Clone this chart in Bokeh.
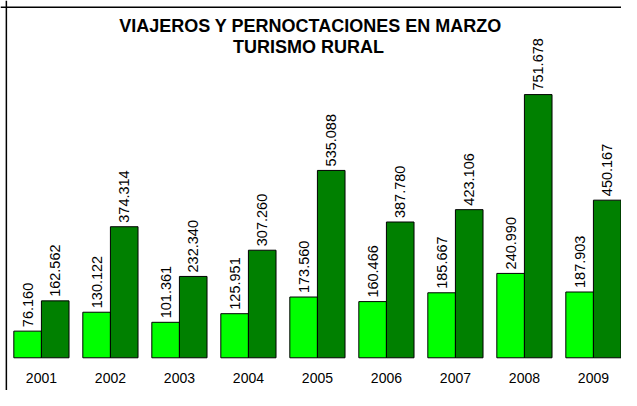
import numpy as np
from bokeh.plotting import figure
from bokeh.models import ColumnDataSource, Label, Span, Range1d
from bokeh.core.properties import value
from bokeh.embed import file_html
from bokeh.resources import INLINE

years = ["2001", "2002", "2003", "2004", "2005", "2006", "2007", "2008", "2009"]
viajeros = [76160, 130122, 101361, 125951, 173560, 160466, 185667, 240990, 187903]
pernoctaciones = [162562, 374314, 232340, 307260, 535088, 387780, 423106, 751678, 450167]

def fmt(v):
    return f"{v:,}".replace(",", ".")

idx = np.arange(len(years))
BW = 0.4
src1 = ColumnDataSource(dict(x=idx - BW / 2, top=viajeros, lab=[fmt(v) for v in viajeros]))
src2 = ColumnDataSource(dict(x=idx + BW / 2, top=pernoctaciones, lab=[fmt(v) for v in pernoctaciones]))
srcy = ColumnDataSource(dict(x=idx, y=[-57700] * len(years), lab=years))

W, H = 621, 390
x0, x1 = -0.593, 8.407
y0, y1 = -93400, 1020400

p = figure(width=W, height=H, output_backend="svg", toolbar_location=None,
           x_range=Range1d(x0, x1), y_range=Range1d(y0, y1),
           min_border=0, min_border_left=0, min_border_right=0,
           min_border_top=0, min_border_bottom=0)
p.axis.visible = False
p.grid.visible = False
p.outline_line_color = None
p.background_fill_color = "white"
p.border_fill_color = "white"

p.vbar(x="x", top="top", bottom=0, width=BW, source=src1,
       fill_color="#00FF00", line_color="black", line_width=1)
p.vbar(x="x", top="top", bottom=0, width=BW, source=src2,
       fill_color="#008000", line_color="black", line_width=1)

for s in (src1, src2):
    p.text(x="x", y="top", text="lab", source=s, angle=np.pi / 2,
           text_align="left", text_baseline="middle", y_offset=-4,
           text_font=value("Liberation Sans"), text_font_size="14.5px",
           text_color="black")

p.text(x="x", y="y", text="lab", source=srcy, text_align="center",
       text_baseline="middle", text_font=value("Liberation Sans"),
       text_font_size="14px", text_color="black")

p.add_layout(Span(location=-0.508, dimension="height", line_color="black", line_width=1.5))
p.add_layout(Span(location=1001000, dimension="width", line_color="black", line_width=1.5))

p.add_layout(Label(x=310, y=H - 25, x_units="screen", y_units="screen",
                   text="VIAJEROS Y PERNOCTACIONES EN MARZO", text_align="center",
                   text_baseline="middle", text_font="Liberation Sans",
                   text_font_style="bold", text_font_size="18px", text_color="black"))
p.add_layout(Label(x=308, y=H - 46, x_units="screen", y_units="screen",
                   text="TURISMO RURAL", text_align="center",
                   text_baseline="middle", text_font="Liberation Sans",
                   text_font_style="bold", text_font_size="18px", text_color="black"))

open("out.html", "w").write(file_html(p, INLINE))
